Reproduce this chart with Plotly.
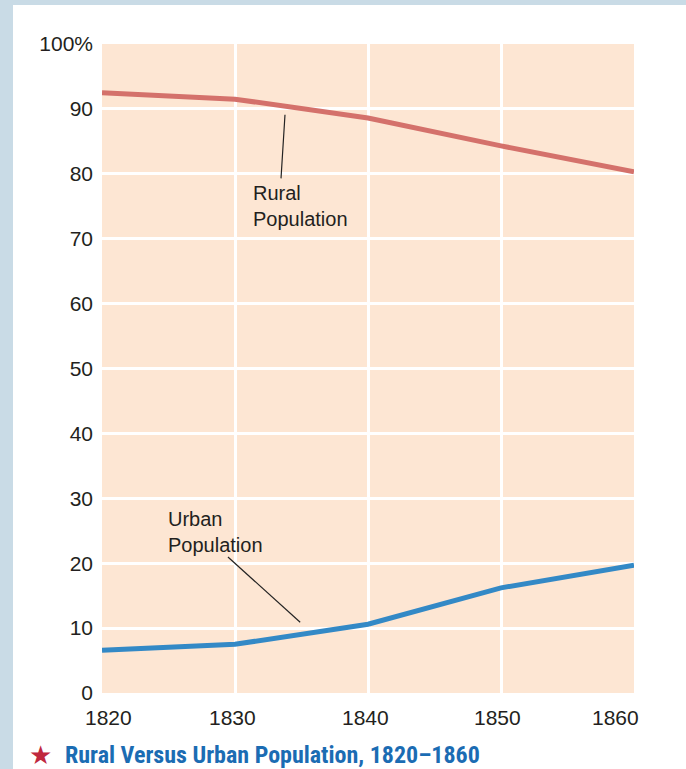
import plotly.graph_objects as go

# Share of the U.S. population living in rural and urban areas (percent)
years = [1820, 1830, 1840, 1850, 1860]
rural_pct = [92.5, 91.5, 88.6, 84.3, 80.3]
urban_pct = [6.6, 7.5, 10.6, 16.2, 19.7]

y_ticks = [0, 10, 20, 30, 40, 50, 60, 70, 80, 90, 100]
y_tick_text = ["0", "10", "20", "30", "40", "50", "60", "70", "80", "90", "100%"]
x_tick_text = ["1820", "1830", "1840", "1850", "1860"]

RURAL_COLOR = "#d4716b"
URBAN_COLOR = "#3389c6"
PLOT_BG = "#fde6d3"
FRAME_BG = "#c9dbe6"
TEXT_COLOR = "#231f20"
TITLE_BLUE = "#1b6cb3"
STAR_RED = "#c0283e"
FONT = "Liberation Sans, Arial, sans-serif"
NARROW = "Liberation Sans Narrow, Roboto Condensed, Liberation Sans, sans-serif"

W, H = 686, 769
L, R, T, B = 102, 52, 44, 76
PW, PH = W - L - R, H - T - B


def px_x(p):
    return (p - L) / PW


def px_y(p):
    return (H - B - p) / PH


fig = go.Figure()

fig.add_trace(go.Scatter(
    x=years, y=rural_pct, mode="lines",
    line=dict(color=RURAL_COLOR, width=5),
    hoverinfo="skip", showlegend=False,
))
fig.add_trace(go.Scatter(
    x=years, y=urban_pct, mode="lines",
    line=dict(color=URBAN_COLOR, width=5),
    hoverinfo="skip", showlegend=False,
))

shapes = [
    # light blue frame strips on the left and top edges
    dict(type="rect", xref="paper", yref="paper",
         x0=px_x(0), x1=px_x(13), y0=px_y(H + 5), y1=px_y(-5),
         fillcolor=FRAME_BG, line=dict(width=0), layer="above"),
    dict(type="rect", xref="paper", yref="paper",
         x0=px_x(0), x1=px_x(W + 5), y0=px_y(5), y1=px_y(-5),
         fillcolor=FRAME_BG, line=dict(width=0), layer="above"),
    # leader lines for the series labels
    dict(type="line", xref="x", yref="y",
         x0=1833.76, y0=89.1, x1=1833.46, y1=79.3,
         line=dict(color="#222222", width=1.2)),
    dict(type="line", xref="x", yref="y",
         x0=1829.47, y0=20.95, x1=1834.9, y1=10.9,
         line=dict(color="#222222", width=1.2)),
]

annotations = [
    dict(x=1831.2, y=75.0, xref="x", yref="y", xanchor="left", yanchor="middle",
         text="Rural<br>Population", showarrow=False, align="left",
         font=dict(family=FONT, size=20, color=TEXT_COLOR)),
    dict(x=1824.8, y=24.8, xref="x", yref="y", xanchor="left", yanchor="middle",
         text="Urban<br>Population", showarrow=False, align="left",
         font=dict(family=FONT, size=20, color=TEXT_COLOR)),
    dict(x=px_x(27), y=px_y(755), xref="paper", yref="paper",
         xanchor="left", yanchor="middle", showarrow=False,
         text="★", font=dict(family="DejaVu Sans, sans-serif", size=26, color=STAR_RED)),
    dict(x=px_x(63), y=px_y(755), xref="paper", yref="paper",
         xanchor="left", yanchor="middle", showarrow=False,
         text="<b>Rural Versus Urban Population, 1820–1860</b>",
         font=dict(family=NARROW, size=24, color=TITLE_BLUE)),
]

# year labels under the axis, the end labels nudged inward
x_label_shift = [6, -3, -3, -4, -19]
for yr, lab, sh in zip(years, x_tick_text, x_label_shift):
    annotations.append(dict(
        x=yr, y=0, xref="x", yref="paper", xanchor="center", yanchor="middle",
        yshift=-24, xshift=sh, text=lab, showarrow=False,
        font=dict(family=FONT, size=21, color=TEXT_COLOR)))

fig.update_layout(
    width=W, height=H, autosize=False,
    margin=dict(l=L, r=R, t=T, b=B, pad=0),
    paper_bgcolor="white", plot_bgcolor=PLOT_BG,
    shapes=shapes, annotations=annotations,
    xaxis=dict(range=[1820, 1860], tickvals=years, showticklabels=False,
               showgrid=True, gridcolor="white", gridwidth=3,
               zeroline=False, showline=False, ticks="", fixedrange=True),
    yaxis=dict(range=[0, 100], tickvals=y_ticks, ticktext=y_tick_text,
               showgrid=True, gridcolor="white", gridwidth=3,
               zeroline=False, showline=False, ticks="",
               ticklabelstandoff=8,
               tickfont=dict(family=FONT, size=21, color=TEXT_COLOR),
               fixedrange=True),
)

fig.write_html("out.html")
